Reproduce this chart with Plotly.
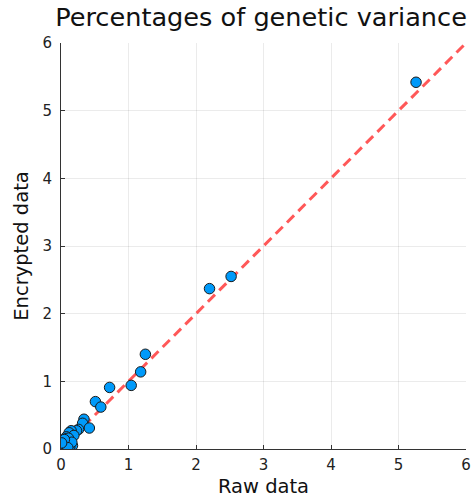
import plotly.graph_objects as go

raw_data = [5.26, 2.52, 2.20, 1.25, 1.18, 1.04, 0.72, 0.51, 0.59,
            0.34, 0.32, 0.42, 0.26, 0.23, 0.15, 0.12, 0.19, 0.08, 0.04,
            0.12, 0.04, 0.01, 0.06, 0.10, 0.02, 0.07, 0.03, 0.14, 0.09, 0.05,
            0.17, 0.11, 0.06, 0.13, 0.02, 0.08, 0.16, 0.05, 0.10, 0.01]
encrypted_data = [5.42, 2.55, 2.37, 1.40, 1.14, 0.94, 0.91, 0.70, 0.62,
                  0.44, 0.38, 0.31, 0.29, 0.27, 0.27, 0.24, 0.20, 0.18, 0.13,
                  0.11, 0.06, 0.03, 0.09, 0.07, 0.01, 0.15, 0.10, 0.08, 0.04, 0.02,
                  0.05, 0.16, 0.12, 0.03, 0.07, 0.01, 0.10, 0.14, 0.02, 0.09]
line_x = [0, 6]
line_y = [0, 6]
ticks = [0, 1, 2, 3, 4, 5, 6]

fig = go.Figure()
fig.add_trace(go.Scatter(
    x=line_x, y=line_y, mode="lines",
    line=dict(color="rgba(255,70,70,0.9)", width=3, dash="10px,6px"),
    showlegend=False, hoverinfo="skip"))
fig.add_trace(go.Scatter(
    x=raw_data, y=encrypted_data, mode="markers",
    marker=dict(color="#009AFA", size=10.5, line=dict(color="#1a1a1a", width=1)),
    showlegend=False))

axis_common = dict(
    range=[0, 6], tickvals=ticks, ticktext=[str(t) for t in ticks],
    showgrid=True, gridcolor="rgba(0,0,0,0.08)", gridwidth=1,
    zeroline=False, showline=True, linecolor="#333", linewidth=1,
    ticks="inside", ticklen=4, tickcolor="#333",
    tickfont=dict(size=15, color="#222"), automargin=False,
)

fig.update_layout(
    width=473, height=499,
    margin=dict(l=60.5, r=7, t=43, b=50),
    paper_bgcolor="white", plot_bgcolor="white",
    font=dict(family="DejaVu Sans", color="#111"),
    title=dict(text="Percentages of genetic variance", x=261 / 473,
               xanchor="center", y=1 - 17 / 499, yanchor="middle",
               font=dict(size=25.6, color="#111")),
    xaxis=dict(title=dict(text="Raw data", font=dict(size=19.5), standoff=6),
               ticklabelstandoff=2, **axis_common),
    yaxis=dict(title=dict(text="Encrypted data", font=dict(size=19.5), standoff=8),
               ticklabelstandoff=5, **axis_common),
)

fig.write_html("out.html")
